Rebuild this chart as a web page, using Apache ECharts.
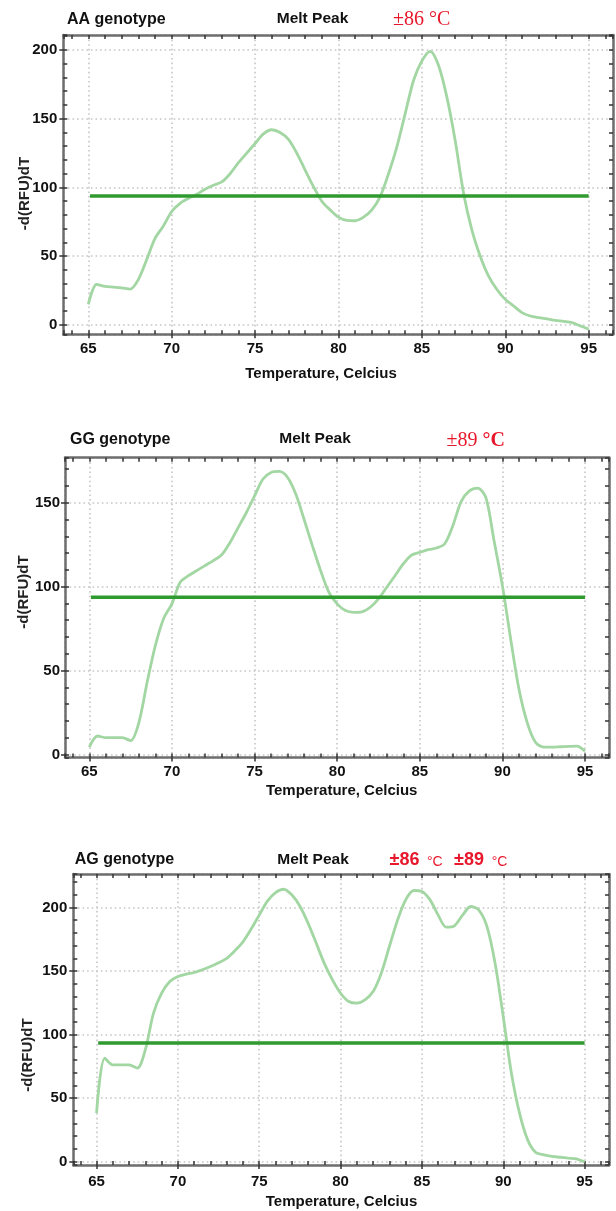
<!DOCTYPE html>
<html><head><meta charset="utf-8">
<script src="https://cdn.jsdelivr.net/npm/echarts@6/dist/echarts.min.js"></script>
<style>html,body{margin:0;padding:0;background:#fff}#c{width:616px;height:1211px}</style>
</head><body><div id="c"></div>
<script>
// ---------- data ----------
const temps = [65,65.5,66,66.5,67,67.5,68,68.5,69,69.5,70,70.5,71,71.5,72,72.5,73,73.5,74,74.5,75,75.5,76,76.5,77,77.5,78,78.5,79,79.5,80,80.5,81,81.5,82,82.5,83,83.5,84,84.5,85,85.5,86,86.5,87,87.5,88,88.5,89,89.5,90,90.5,91,91.5,92,92.5,93,93.5,94,94.5,95];
const rfuAA = [15,29.5,28,27.5,27,26,33,47.5,63,72,82.5,88.5,92,95,98.7,101.6,104,110,118,125,132,139,142,140,135,125,112.7,100.6,90,83.7,78.4,76,75.8,78.4,83.7,93.4,110,129.6,153.7,177.8,192,199,188.7,165.7,134,95.8,69,50,35.5,25.8,18.6,13.8,9,6.5,5.3,4.4,3.4,2.6,1.7,-0.7,-3];
const rfuGG = [4.4,11,10,10,10,8.3,19,43,65,81,89.7,102.6,106.5,109.5,112.5,115.5,118.8,126,135,144,154,164,168,168.6,165,155,140,124.4,109.5,96.6,89.7,85.7,84.7,85,87.7,92.7,99.6,106.5,113.5,118.8,120.4,122,123,125.4,136.3,150.6,157,158.7,153,127,100.6,68.8,39,19,7.3,4.4,4.4,4.6,4.8,5,2];
const rfuAG = [38,81.4,76,76,76,73.5,88,116.8,132.5,141.7,145.7,147.5,148.8,151,153.5,156.5,160,166,173,183,194,205,211.8,214.4,210,201,187.7,172,156,143,132.5,126,124.7,127.3,133.8,148.3,169.3,190,206,213.4,212.6,206,194,184.5,185.6,194,200.8,198,185,156,114,69.6,38,17,7,5.2,4,3.3,2.6,2,-0.5];
const thresholds = [93.8, 93.7, 93.2];
const thresholdRange = [65.1, 95];
const genotypeLabels = ['AA genotype', 'GG genotype', 'AG genotype'];
const panelTitle = 'Melt Peak';
const xAxisName = 'Temperature, Celcius';
const yAxisName = '-d(RFU)dT';
const seriesData = [rfuAA, rfuGG, rfuAG];

// ---------- layout ----------
const layouts = [
  {left:63.3, top:35, width:549.7, height:299.3, xMin:63.5, xMax:96.46, yMin:-6.8, yMax:210.9, xm:7, ym:6,
   gx:67, gy:20, mx:312.5, my:19, yn:[24.4,193.5], xn:[321,374]},
  {left:65, top:457.7, width:544, height:299.8, xMin:63.53, xMax:96.45, yMin:-1.8, yMax:176.8, xm:7, ym:5,
   gx:70, gy:439.5, mx:315, my:439, yn:[23.8,592], xn:[341.7,790.7]},
  {left:73.3, top:874, width:535.7, height:291, xMin:63.57, xMax:96.5, yMin:-2.8, yMax:226.4, xm:9, ym:6,
   gx:74.7, gy:860, mx:313, my:860, yn:[27.5,1055], xn:[341.5,1201.7]}
];

const FONT = 'Liberation Sans, Arial, sans-serif';
const borderStyle = {color:'#6e6e6e', width:2.5};
const tickStyle = {color:'#333', width:1.5};
const labelStyle = {color:'#111', fontSize:15, fontWeight:'bold', fontFamily:FONT};
const gridLine = {color:'#c6c6c6', type:[1.6,3], width:1.6};

const grid = [], xAxis = [], yAxis = [], series = [], graphic = [];

layouts.forEach((L, i) => {
  grid.push({left:L.left, top:L.top, width:L.width, height:L.height, containLabel:false});
  const xb = {type:'value', gridIndex:i, min:L.xMin, max:L.xMax};
  const yb = {type:'value', gridIndex:i, min:L.yMin, max:L.yMax};
  xAxis.push(Object.assign({}, xb, {position:'bottom', minInterval:5, maxInterval:5,
    axisLine:{show:true, onZero:false, lineStyle:borderStyle},
    axisTick:{show:true, inside:false, length:4, lineStyle:tickStyle},
    axisLabel:Object.assign({show:true, showMinLabel:false, showMaxLabel:false, margin:L.xm,
      formatter: v => String(Math.round(v))}, labelStyle),
    splitLine:{show:true, lineStyle:gridLine}}));
  xAxis.push(Object.assign({}, xb, {position:'bottom', minInterval:1, maxInterval:1,
    axisLine:{show:false, onZero:false}, axisTick:{show:true, inside:true, length:4, lineStyle:tickStyle},
    axisLabel:{show:false}, splitLine:{show:false}}));
  xAxis.push(Object.assign({}, xb, {position:'top', minInterval:1, maxInterval:1,
    axisLine:{show:true, onZero:false, lineStyle:borderStyle}, axisTick:{show:true, inside:true, length:4, lineStyle:tickStyle},
    axisLabel:{show:false}, splitLine:{show:false}}));
  yAxis.push(Object.assign({}, yb, {position:'left', minInterval:50, maxInterval:50,
    axisLine:{show:true, onZero:false, lineStyle:borderStyle},
    axisTick:{show:true, inside:false, length:4, lineStyle:tickStyle},
    axisLabel:Object.assign({show:true, showMinLabel:false, showMaxLabel:false, margin:L.ym,
      formatter: v => String(Math.round(v))}, labelStyle),
    splitLine:{show:true, lineStyle:gridLine}}));
  yAxis.push(Object.assign({}, yb, {position:'left', minInterval:10, maxInterval:10,
    axisLine:{show:false, onZero:false}, axisTick:{show:true, inside:true, length:4, lineStyle:tickStyle},
    axisLabel:{show:false}, splitLine:{show:false}}));
  yAxis.push(Object.assign({}, yb, {position:'right', minInterval:10, maxInterval:10,
    axisLine:{show:true, onZero:false, lineStyle:borderStyle}, axisTick:{show:true, inside:true, length:4, lineStyle:tickStyle},
    axisLabel:{show:false}, splitLine:{show:false}}));

  series.push({type:'line', name:genotypeLabels[i], xAxisIndex:3*i, yAxisIndex:3*i,
    data: temps.map((t,k) => [t, seriesData[i][k]]), smooth:0.3, showSymbol:false, silent:true,
    lineStyle:{color:'#a2d6a2', width:2.8}, z:2});
  series.push({type:'line', name:'Threshold', xAxisIndex:3*i, yAxisIndex:3*i,
    data: [[thresholdRange[0], thresholds[i]], [thresholdRange[1], thresholds[i]]], showSymbol:false, silent:true,
    lineStyle:{color:'#2f9a2f', width:3.5}, z:3});

  const tfont = {fontSize:16, fontWeight:'bold', fontFamily:FONT, fill:'#111', textVerticalAlign:'middle'};
  graphic.push({type:'text', x:L.gx, y:L.gy, style:Object.assign({text:genotypeLabels[i], textAlign:'left'}, tfont)});
  graphic.push({type:'text', x:L.mx, y:L.my, style:Object.assign({text:panelTitle, textAlign:'center'}, tfont, {fontSize:15.5})});
  graphic.push({type:'text', x:L.xn[0], y:L.xn[1], style:Object.assign({text:xAxisName, textAlign:'center'}, tfont, {fontSize:15})});
  graphic.push({type:'text', x:L.yn[0], y:L.yn[1], rotation:Math.PI/2,
    style:Object.assign({text:yAxisName, textAlign:'center'}, tfont, {fontSize:15, fill:'#222'})});
});

const RED = '#e8182c';
const SERIF = 'Liberation Serif, Times New Roman, serif';
graphic.push({type:'text', x:393, y:20, style:{text:'±86 °C', textAlign:'left', textVerticalAlign:'middle', fontSize:20, fontFamily:SERIF, fill:RED}});
graphic.push({type:'text', x:446.5, y:441, style:{text:'{a|±89 }{b|°C}', textAlign:'left', textVerticalAlign:'middle',
  rich:{a:{fontSize:20, fontFamily:SERIF, fill:RED, color:RED}, b:{fontSize:20, fontFamily:SERIF, fontWeight:'bold', fill:RED, color:RED}}}});
graphic.push({type:'text', x:389.5, y:860, style:{text:'±86', textAlign:'left', textVerticalAlign:'middle', fontSize:18, fontWeight:'bold', fontFamily:FONT, fill:RED}});
graphic.push({type:'text', x:427, y:862, style:{text:'°C', textAlign:'left', textVerticalAlign:'middle', fontSize:14, fontFamily:FONT, fill:RED}});
graphic.push({type:'text', x:454, y:860, style:{text:'±89', textAlign:'left', textVerticalAlign:'middle', fontSize:18, fontWeight:'bold', fontFamily:FONT, fill:RED}});
graphic.push({type:'text', x:491.7, y:862, style:{text:'°C', textAlign:'left', textVerticalAlign:'middle', fontSize:14, fontFamily:FONT, fill:RED}});

const chart = echarts.init(document.getElementById('c'), null, {renderer:'canvas'});
chart.setOption({animation:false, backgroundColor:'#fff', grid, xAxis, yAxis, series, graphic});
</script></body></html>
